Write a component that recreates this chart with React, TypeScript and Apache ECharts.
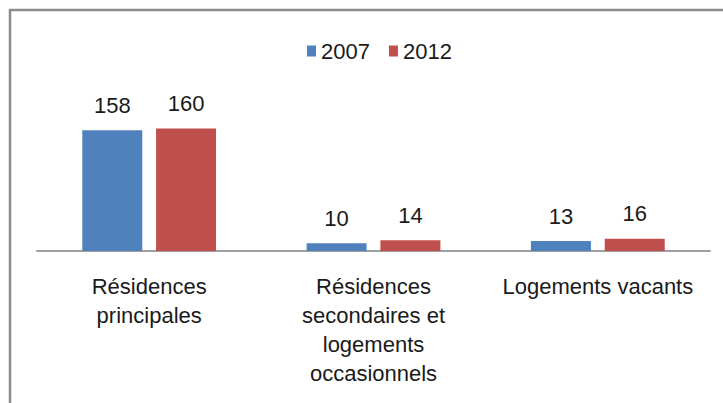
import React, { useEffect, useRef } from "react";
import * as echarts from "echarts";

const categories = [
  "Résidences\nprincipales",
  "Résidences\nsecondaires et\nlogements\noccasionnels",
  "Logements vacants",
];
const seriesNames = ["2007", "2012"];
const values2007 = [158, 10, 13];
const values2012 = [160, 14, 16];
const colors = ["#4F81BD", "#C0504D"];

const FONT = "'Liberation Sans', Arial, sans-serif";

export default function App() {
  const ref = useRef<HTMLDivElement>(null);
  useEffect(() => {
    if (!ref.current) return;
    const chart = echarts.init(ref.current, undefined, { renderer: "svg" });
    const mkSeries = (name: string, data: number[], color: string) => ({
      name,
      type: "bar",
      data,
      barWidth: 60,
      barGap: "23%",
      itemStyle: { color },
      label: {
        show: true,
        position: "top",
        distance: 14,
        color: "#1a1a1a",
        fontFamily: FONT,
        fontSize: 22,
      },
    });
    chart.setOption({
      animation: false,
      backgroundColor: "#fff",
      textStyle: { fontFamily: FONT },
      legend: {
        data: seriesNames,
        left: 302,
        top: 35,
        icon: "rect",
        itemWidth: 9,
        itemHeight: 11,
        itemGap: 19,
        textStyle: { fontFamily: FONT, fontSize: 22, color: "#1a1a1a" },
      },
      grid: { left: 37, right: 13, top: 98, bottom: 152 },
      xAxis: {
        type: "category",
        data: categories,
        axisLine: { lineStyle: { color: "#A0A0A0", width: 2 } },
        axisTick: { show: false },
        axisLabel: {
          interval: 0,
          margin: 21,
          fontFamily: FONT,
          fontSize: 22,
          lineHeight: 29,
          color: "#1a1a1a",
        },
      },
      yAxis: {
        type: "value",
        min: 0,
        max: 200,
        show: false,
        splitLine: { show: false },
      },
      series: [
        mkSeries(seriesNames[0], values2007, colors[0]),
        mkSeries(seriesNames[1], values2012, colors[1]),
      ],
      graphic: [
        {
          type: "rect",
          shape: { x: 10, y: 10, width: 800, height: 500 },
          style: { fill: "none", stroke: "#8C8C8C", lineWidth: 2.5 },
          silent: true,
        },
      ],
    });
    return () => chart.dispose();
  }, []);
  return (
    <div
      ref={ref}
      style={{ position: "absolute", left: 0, top: 0, width: 723, height: 403 }}
    />
  );
}
